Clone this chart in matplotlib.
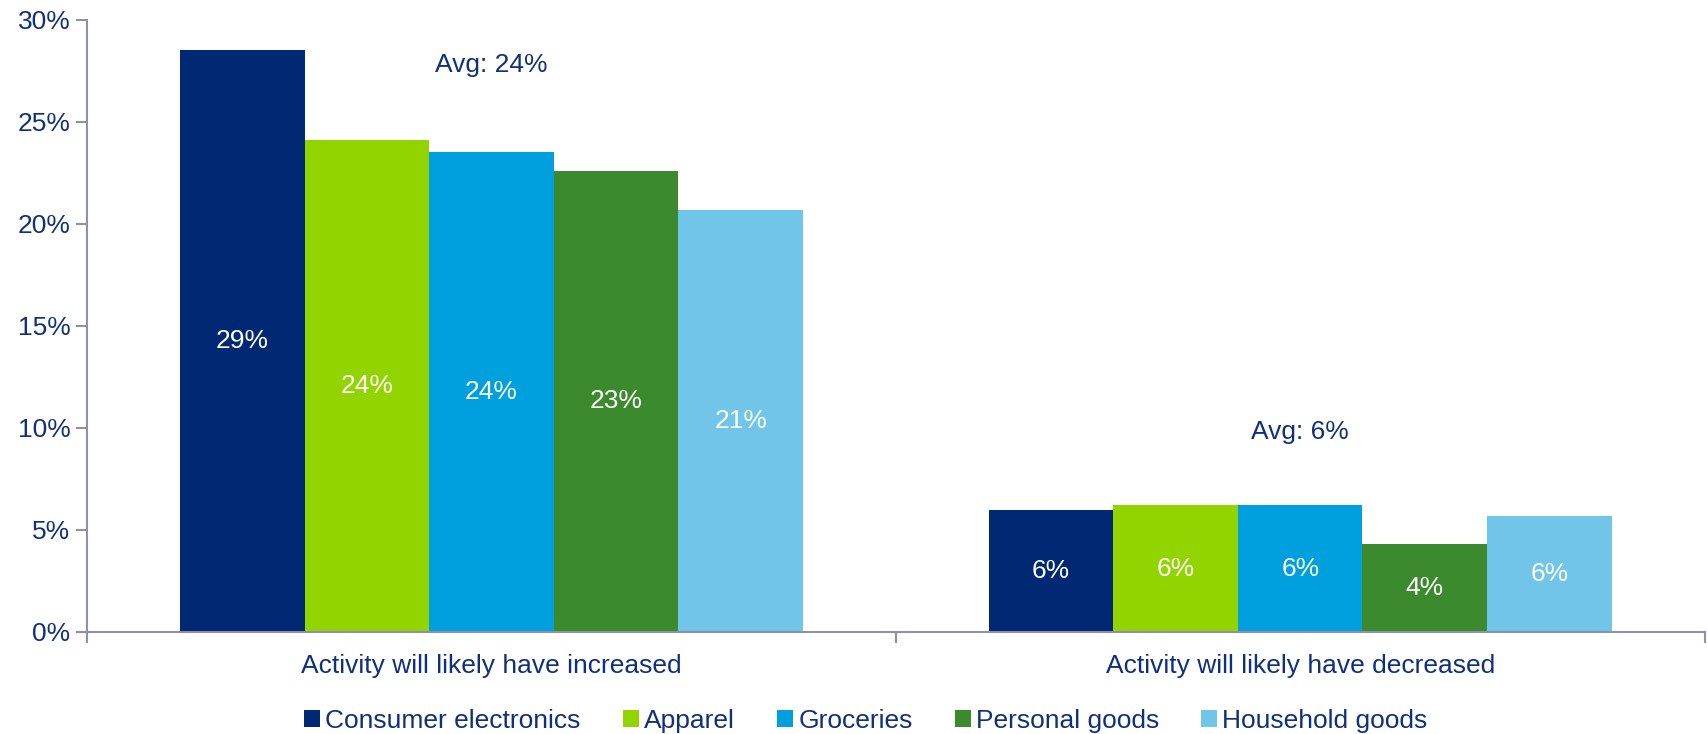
import numpy as np
import matplotlib.pyplot as plt
from matplotlib.patches import Patch

plt.rcParams['font.family'] = ['Liberation Sans', 'DejaVu Sans']

# data
categories = ['Activity will likely have increased', 'Activity will likely have decreased']
series = ['Consumer electronics', 'Apparel', 'Groceries', 'Personal goods', 'Household goods']
values = [
    [28.5, 6.0],   # Consumer electronics
    [24.1, 6.2],   # Apparel
    [23.5, 6.2],   # Groceries
    [22.6, 4.3],   # Personal goods
    [20.7, 5.7],   # Household goods
]
labels = [
    ['29%', '6%'],
    ['24%', '6%'],
    ['24%', '6%'],
    ['23%', '4%'],
    ['21%', '6%'],
]
averages = [24, 6]
avg_labels = ['Avg: 24%', 'Avg: 6%']

colors = ['#002873', '#92D400', '#00A0DF', '#3C8A2E', '#71C5E8']
navy = '#0F2F7F'
axis_col = '#8E90AC'

fig = plt.figure(figsize=(17.08, 7.34), dpi=100)
ax = fig.add_axes([0.051, 0.139, 0.947, 0.834])

x = np.arange(len(categories))
width = 0.154
n = len(series)

for i, (name, vals) in enumerate(zip(series, values)):
    pos = x + (i - (n - 1) / 2) * width
    bars = ax.bar(pos, vals, width, color=colors[i], label=name, zorder=2)
    for bar, lab in zip(bars, labels[i]):
        ax.text(bar.get_x() + bar.get_width() / 2, bar.get_height() / 2, lab,
                ha='center', va='center', color='white', fontsize=19)

for xi, avg, lab in zip(x, averages, avg_labels):
    ax.text(xi, avg + 3.8, lab, ha='center', va='center', color=navy, fontsize=19)

ax.set_xlim(-0.5, 1.5)
ax.set_ylim(0, 30)
ax.set_yticks(np.arange(0, 31, 5))
ax.set_yticklabels([f'{v}%' for v in range(0, 31, 5)])
ax.tick_params(axis='y', colors=axis_col, labelcolor=navy, labelsize=19, length=8, width=1.5, pad=4)

ax.set_xticks([-0.5, 0.5, 1.5])
ax.set_xticklabels(['', '', ''])
ax.set_xticks(x, minor=True)
ax.set_xticklabels(categories, minor=True)
ax.tick_params(axis='x', which='major', colors=axis_col, length=8, width=1.5)
ax.tick_params(axis='x', which='minor', length=0, labelcolor=navy, labelsize=19, pad=16)

for s in ['top', 'right']:
    ax.spines[s].set_visible(False)
for s in ['left', 'bottom']:
    ax.spines[s].set_color(axis_col)
    ax.spines[s].set_linewidth(1.5)

handles = [Patch(facecolor=c, label=s) for c, s in zip(colors, series)]
leg = fig.legend(handles=handles, loc='center', bbox_to_anchor=(0.507, 0.018), ncol=5,
                 frameon=False, fontsize=19, handlelength=0.6, handleheight=0.6,
                 handletextpad=0.2, columnspacing=1.6)
for t in leg.get_texts():
    t.set_color(navy)

plt.savefig('out.png', dpi=100, facecolor='white')
